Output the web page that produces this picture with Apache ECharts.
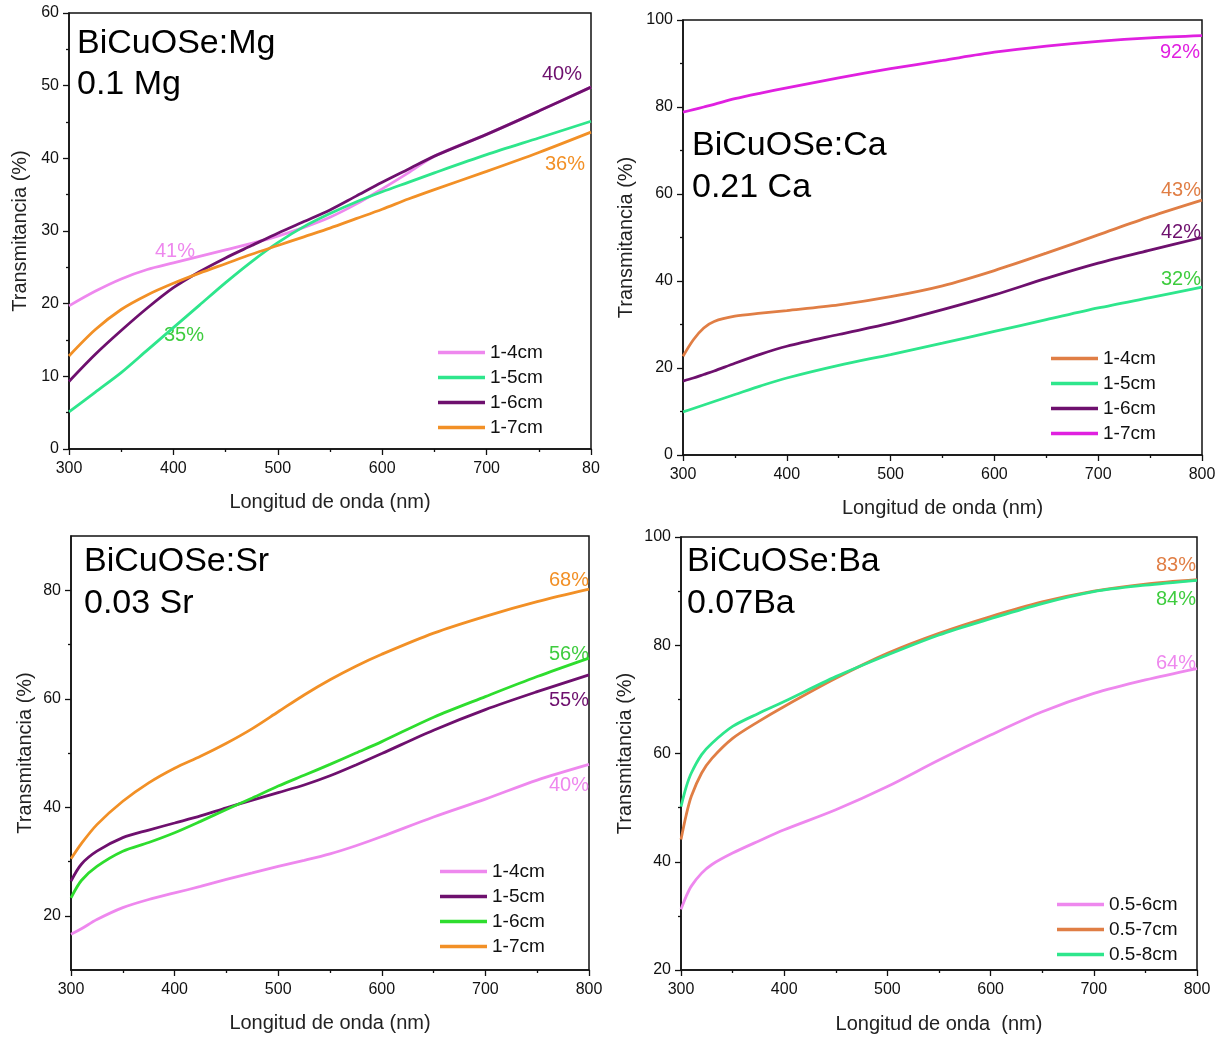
<!DOCTYPE html>
<html>
<head>
<meta charset="utf-8">
<script src="https://cdn.jsdelivr.net/npm/echarts@6/dist/echarts.min.js"></script>
<style>
html,body{margin:0;padding:0;background:#fff;}
#c{width:1225px;height:1038px;}
</style>
</head>
<body>
<div id="c"></div>
<script>
// ---------- DATA ----------
// Panel 1: BiCuOSe:Mg
const mgX      = [300,325,350,375,400,425,450,475,500,525,550,575,600,625,650,700,750,800];
const mg_1_4   = [19.7,21.7,23.4,24.7,25.6,26.5,27.4,28.3,29.3,30.5,31.9,33.7,35.8,38.0,40.3,43.3,46.5,49.8];
const mg_1_5   = [5.1,7.8,10.5,13.6,16.7,19.8,22.9,25.8,28.4,30.6,32.4,34.0,35.4,36.7,38.0,40.5,42.8,45.1];
const mg_1_6   = [9.3,13.0,16.3,19.4,22.2,24.4,26.3,28.0,29.7,31.3,32.9,34.8,36.7,38.5,40.3,43.3,46.5,49.8];
const mg_1_7   = [12.8,16.4,19.2,21.2,22.8,24.2,25.5,26.8,28.0,29.2,30.4,31.7,33.0,34.4,35.7,38.2,40.8,43.6];

// Panel 2: BiCuOSe:Ca
const caX      = [300,310,320,330,350,375,400,450,500,550,600,650,700,750,800];
const ca_1_4   = [22.7,26.5,29.2,30.7,31.9,32.6,33.2,34.5,36.4,38.9,42.4,46.4,50.6,54.8,58.6];
const ca_1_5   = [9.9,10.7,11.5,12.3,13.9,15.9,17.7,20.6,23.1,25.7,28.4,31.1,33.8,36.2,38.6];
const ca_1_6   = [17.0,17.7,18.5,19.3,21.1,23.2,25.0,27.7,30.3,33.4,36.8,40.6,44.1,47.1,50.0];
const ca_1_7   = [78.8,79.4,80.0,80.6,81.9,83.2,84.4,86.7,88.8,90.7,92.6,94.0,95.1,95.9,96.4];

// Panel 3: BiCuOSe:Sr
const srX      = [300,310,325,350,375,400,425,450,475,500,525,550,575,600,650,700,750,800];
const sr_1_4   = [16.6,17.6,19.3,21.5,23.0,24.2,25.4,26.7,27.9,29.1,30.2,31.4,32.9,34.6,38.2,41.5,45.0,47.9];
const sr_1_5   = [26.4,29.5,31.9,34.4,35.8,37.1,38.4,39.9,41.3,42.7,44.1,45.8,47.8,49.9,54.2,58.0,61.3,64.4];
const sr_1_6   = [23.3,26.5,29.1,31.9,33.5,35.3,37.4,39.6,41.7,43.9,45.9,47.9,50.0,52.1,56.6,60.4,64.1,67.5];
const sr_1_7   = [30.5,33.3,36.8,41.1,44.5,47.2,49.4,51.8,54.5,57.6,60.7,63.5,66.0,68.2,72.1,75.2,77.9,80.2];

// Panel 4: BiCuOSe:Ba
const baX      = [300,305,310,320,330,350,375,400,450,500,550,600,650,700,750,800];
const ba_05_6  = [31.2,33.6,35.5,37.9,39.5,41.6,43.8,45.9,49.6,53.9,58.8,63.4,67.7,71.1,73.6,75.7];
const ba_05_7  = [44.1,48.6,52.1,56.4,59.1,62.8,65.9,68.7,73.9,78.5,82.2,85.3,88.0,90.0,91.3,92.1];
const ba_05_8  = [50.2,53.8,56.4,59.8,61.9,65.0,67.4,69.6,74.2,78.2,81.9,84.9,87.7,89.9,91.1,92.0];

// Tick values
const srMajorTicks = [20,40,60,80];
const srMinorTicks = [30,50,70];

// ---------- STYLE ----------
const FONT = 'Arial, "Liberation Sans", sans-serif';
const C = {
  pink:'#EE88EE', green:'#2EE68C', purple:'#6E106E', orange:'#F29026',
  orange2:'#E07E45', magenta:'#E020E0', green2:'#2EDD2E', pctGreen:'#3ECC3E'
};
const TICK = {fontFamily:FONT,fontSize:16,color:'#111'};

function pairs(xs, ys){ return xs.map((x,i)=>[x, ys[i]]); }

function xAxisCfg(gi, nameGap, name, fmt){
  return {
    type:'value', gridIndex:gi, min:300, max:800, interval:100,
    name:name, nameLocation:'middle', nameGap:nameGap,
    nameTextStyle:{fontFamily:FONT,fontSize:20,color:'#222'},
    axisLine:{show:true,onZero:false,lineStyle:{color:'#111',width:1.5}},
    axisTick:{show:true,length:6,lineStyle:{color:'#111',width:1.3}},
    minorTick:{show:true,splitNumber:2,length:3,lineStyle:{color:'#111',width:1.3}},
    axisLabel:Object.assign({margin:12,formatter:fmt||'{value}'},TICK),
    splitLine:{show:false}
  };
}
function yAxisCfg(gi, min, max, interval, nameGap){
  return {
    type:'value', gridIndex:gi, min:min, max:max, interval:interval,
    name:'Transmitancia (%)', nameLocation:'middle', nameGap:nameGap,
    nameTextStyle:{fontFamily:FONT,fontSize:20,color:'#222'},
    axisLine:{show:true,onZero:false,lineStyle:{color:'#111',width:1.5}},
    axisTick:{show:true,length:6,lineStyle:{color:'#111',width:1.3}},
    minorTick:{show:true,splitNumber:2,length:3,lineStyle:{color:'#111',width:1.3}},
    axisLabel:Object.assign({margin:10},TICK),
    splitLine:{show:false}
  };
}

function line(name, xs, ys, color, xi, yi){
  return {
    type:'line', name:name, xAxisIndex:xi, yAxisIndex:yi,
    data:pairs(xs, ys), smooth:0.3,
    showSymbol:false, symbol:'none',
    lineStyle:{color:color,width:2.8}, itemStyle:{color:color},
    emphasis:{disabled:true}, animation:false
  };
}

function legendCfg(names, left, top){
  return {
    data:names, left:left, top:top, orient:'vertical',
    icon:'rect', itemWidth:47, itemHeight:3.5, itemGap:6,
    textStyle:{fontFamily:FONT,fontSize:19,color:'#111',padding:[0,0,0,0]},
    formatter:function(n){ return n.split('|')[1]; },
    selectedMode:false
  };
}

function txt(x, y, s, color, size, align){
  return {type:'text', x:x, y:y, style:{text:s, fill:color, font:size+'px '+FONT,
    textAlign:align||'center', textVerticalAlign:'middle'}, silent:true};
}

const yAxes = [
  yAxisCfg(0, 0, 60, 10, 39),
  yAxisCfg(1, 0, 100, 20, 47),
  Object.assign(yAxisCfg(2, 10, 90, null, 36), {
    interval:undefined,
    axisTick:{show:true,length:6,customValues:srMajorTicks,lineStyle:{color:'#111',width:1.3}},
    axisLabel:Object.assign({margin:10,customValues:srMajorTicks},TICK),
    minorTick:{show:false}
  }),
  yAxisCfg(3, 20, 100, 20, 46),
  { type:'value', gridIndex:2, min:10, max:90, position:'left',
    axisLine:{show:false}, axisLabel:{show:false}, splitLine:{show:false},
    axisTick:{show:true,length:3,customValues:srMinorTicks,lineStyle:{color:'#111',width:1.3}} }
];

const option = {
  backgroundColor:'#fff',
  animation:false,
  grid:[
    {left:69, top:13, width:522, height:436, show:true, borderColor:'#111', borderWidth:1.5, backgroundColor:'transparent'},
    {left:683, top:20, width:519, height:435, show:true, borderColor:'#111', borderWidth:1.5, backgroundColor:'transparent'},
    {left:71, top:536, width:518, height:434, show:true, borderColor:'#111', borderWidth:1.5, backgroundColor:'transparent'},
    {left:681, top:537, width:516, height:433, show:true, borderColor:'#111', borderWidth:1.5, backgroundColor:'transparent'}
  ],
  xAxis:[
    xAxisCfg(0, 43, 'Longitud de onda (nm)', function(v){ return v===800 ? '80' : String(v); }),
    xAxisCfg(1, 43, 'Longitud de onda (nm)'),
    xAxisCfg(2, 43, 'Longitud de onda (nm)'),
    xAxisCfg(3, 44, 'Longitud de onda  (nm)')
  ],
  yAxis:yAxes,
  legend:[
    legendCfg(['Mg|1-4cm','Mg|1-5cm','Mg|1-6cm','Mg|1-7cm'], 433, 338),
    legendCfg(['Ca|1-4cm','Ca|1-5cm','Ca|1-6cm','Ca|1-7cm'], 1046, 344),
    legendCfg(['Sr|1-4cm','Sr|1-5cm','Sr|1-6cm','Sr|1-7cm'], 435, 857),
    legendCfg(['Ba|0.5-6cm','Ba|0.5-7cm','Ba|0.5-8cm'], 1052, 890)
  ],
  series:[
    line('Mg|1-4cm', mgX, mg_1_4, C.pink, 0, 0),
    line('Mg|1-5cm', mgX, mg_1_5, C.green, 0, 0),
    line('Mg|1-6cm', mgX, mg_1_6, C.purple, 0, 0),
    line('Mg|1-7cm', mgX, mg_1_7, C.orange, 0, 0),

    line('Ca|1-4cm', caX, ca_1_4, C.orange2, 1, 1),
    line('Ca|1-5cm', caX, ca_1_5, C.green, 1, 1),
    line('Ca|1-6cm', caX, ca_1_6, C.purple, 1, 1),
    line('Ca|1-7cm', caX, ca_1_7, C.magenta, 1, 1),

    line('Sr|1-4cm', srX, sr_1_4, C.pink, 2, 2),
    line('Sr|1-5cm', srX, sr_1_5, C.purple, 2, 2),
    line('Sr|1-6cm', srX, sr_1_6, C.green2, 2, 2),
    line('Sr|1-7cm', srX, sr_1_7, C.orange, 2, 2),

    line('Ba|0.5-6cm', baX, ba_05_6, C.pink, 3, 3),
    line('Ba|0.5-7cm', baX, ba_05_7, C.orange2, 3, 3),
    line('Ba|0.5-8cm', baX, ba_05_8, C.green, 3, 3)
  ],
  graphic:[
    txt(77, 44, 'BiCuOSe:Mg', '#000', 34, 'left'),
    txt(77, 85, '0.1 Mg', '#000', 34, 'left'),
    txt(692, 146, 'BiCuOSe:Ca', '#000', 34, 'left'),
    txt(692, 188, '0.21 Ca', '#000', 34, 'left'),
    txt(84, 562, 'BiCuOSe:Sr', '#000', 34, 'left'),
    txt(84, 604, '0.03 Sr', '#000', 34, 'left'),
    txt(687, 562, 'BiCuOSe:Ba', '#000', 34, 'left'),
    txt(687, 604, '0.07Ba', '#000', 34, 'left'),

    txt(175, 251, '41%', C.pink, 20),
    txt(184, 335, '35%', C.pctGreen, 20),
    txt(562, 74, '40%', C.purple, 20),
    txt(565, 164, '36%', C.orange, 20),

    txt(1180, 52, '92%', C.magenta, 20),
    txt(1181, 190, '43%', C.orange2, 20),
    txt(1181, 232, '42%', C.purple, 20),
    txt(1181, 279, '32%', C.pctGreen, 20),

    txt(569, 580, '68%', C.orange, 20),
    txt(569, 654, '56%', C.pctGreen, 20),
    txt(569, 700, '55%', C.purple, 20),
    txt(569, 785, '40%', C.pink, 20),

    txt(1176, 565, '83%', C.orange2, 20),
    txt(1176, 599, '84%', C.pctGreen, 20),
    txt(1176, 663, '64%', C.pink, 20)
  ]
};

const chart = echarts.init(document.getElementById('c'), null, {renderer:'canvas'});
chart.setOption(option);
</script>
</body>
</html>
